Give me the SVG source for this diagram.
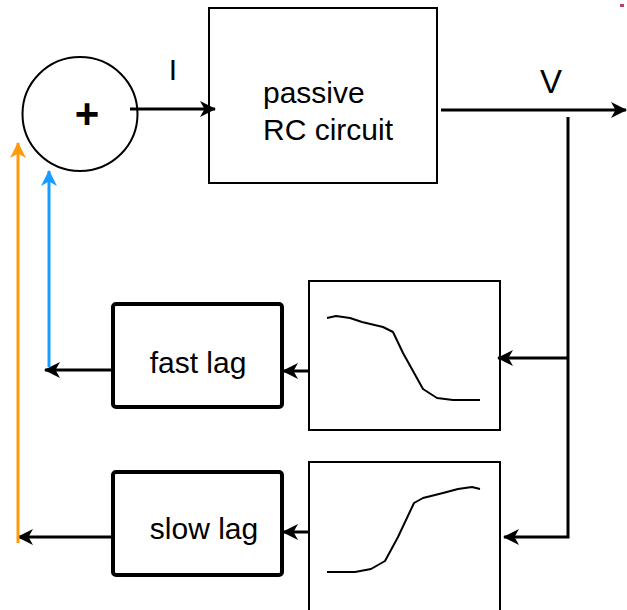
<svg xmlns="http://www.w3.org/2000/svg" width="627" height="610" viewBox="0 0 627 610">
<style>
  .lbl{font-family:"Liberation Sans",Arial,sans-serif;font-size:30px;fill:#000}
  .box{fill:#fff;stroke:#000;stroke-width:2}
  .lag{fill:#fff;stroke:#000;stroke-width:4}
  .curve{fill:none;stroke:#000;stroke-width:2;stroke-linejoin:round}
  .wire{fill:none;stroke:#000;stroke-width:3}
</style>
<defs>
  <marker id="ah" markerUnits="userSpaceOnUse" markerWidth="17" markerHeight="16" refX="15" refY="8" orient="auto">
    <path d="M0,0 L16,8 L0,16 L4.5,8 Z" fill="#000"/>
  </marker>
  <marker id="ahb" markerUnits="userSpaceOnUse" markerWidth="17" markerHeight="16" refX="15" refY="8" orient="auto">
    <path d="M0,0 L16,8 L0,16 L4.5,8 Z" fill="#1a9bff"/>
  </marker>
  <marker id="aho" markerUnits="userSpaceOnUse" markerWidth="17" markerHeight="16" refX="15" refY="8" orient="auto">
    <path d="M0,0 L16,8 L0,16 L4.5,8 Z" fill="#ff9a0d"/>
  </marker>
</defs>
<rect x="620" y="4" width="4" height="3" fill="#b0436a"/>
<g id="sum">
  <ellipse cx="80" cy="114" rx="57.5" ry="57" class="box"/>
  <text x="87" y="128" text-anchor="middle" class="lbl" style="font-size:42px;font-weight:bold">+</text>
</g>
<g id="rc">
  <rect x="209" y="8" width="228" height="175" class="box"/>
  <text x="263" y="103" class="lbl">passive</text>
  <text x="263" y="140" class="lbl">RC circuit</text>
</g>
<g id="curve-fast">
  <rect x="309" y="281" width="191" height="149" class="box"/>
  <polyline class="curve" points="327,318 336,316 350,318 362,322 383,327 393,332 403,353 423,389 437,398 453,400 480,400"/>
</g>
<g id="curve-slow">
  <rect x="309" y="462" width="191" height="150" class="box"/>
  <polyline class="curve" points="327,572 355,572 371,569 385,561 398,537 414,503 423,498 443,493 458,489 472,487 480,489"/>
</g>
<g id="fast-lag">
  <rect x="113" y="304" width="169" height="103" rx="3" class="lag"/>
  <text x="198" y="373" text-anchor="middle" class="lbl">fast lag</text>
</g>
<g id="slow-lag">
  <rect x="113" y="472" width="169" height="103" rx="3" class="lag"/>
  <text x="204" y="539" text-anchor="middle" class="lbl">slow lag</text>
</g>
<g id="labels">
  <text x="173" y="80" text-anchor="middle" class="lbl">I</text>
  <text x="551" y="93" text-anchor="middle" class="lbl" style="font-size:33px">V</text>
</g>
<g id="connectors">
  <line x1="130" y1="109" x2="215" y2="109" class="wire" marker-end="url(#ah)"/>
  <line x1="441" y1="110" x2="626" y2="110" class="wire" marker-end="url(#ah)"/>
  <polyline points="568,117 568,537 504,537" class="wire" marker-end="url(#ah)"/>
  <line x1="568" y1="358" x2="498" y2="358" class="wire" marker-end="url(#ah)"/>
  <line x1="309" y1="371" x2="283" y2="371" class="wire" marker-end="url(#ah)"/>
  <line x1="309" y1="532" x2="283" y2="532" class="wire" marker-end="url(#ah)"/>
  <line x1="113" y1="370" x2="45" y2="370" class="wire" marker-end="url(#ah)"/>
  <line x1="113" y1="537" x2="18" y2="537" class="wire" marker-end="url(#ah)"/>
  <line x1="49" y1="367" x2="49" y2="171" stroke="#1a9bff" stroke-width="3" marker-end="url(#ahb)"/>
  <line x1="18" y1="543" x2="18" y2="143" stroke="#ff9a0d" stroke-width="3" marker-end="url(#aho)"/>
</g>
</svg>
